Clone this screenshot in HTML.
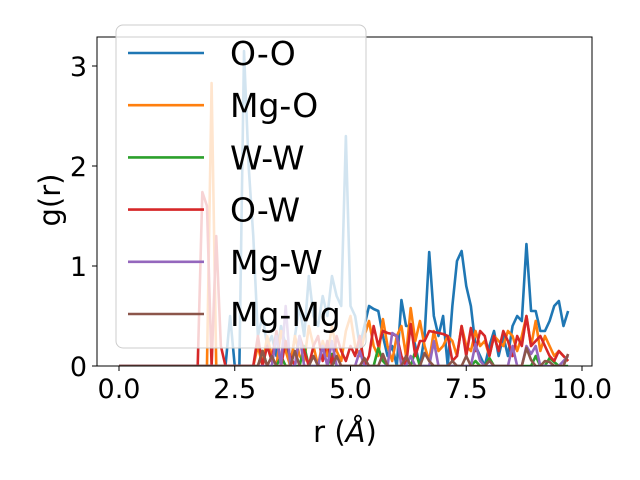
<!DOCTYPE html>
<html><head><meta charset="utf-8"><style>
html,body{margin:0;padding:0;background:#fff;}
svg{display:block;font-family:"DejaVu Sans","Liberation Sans",sans-serif;}
</style></head><body>
<svg id="chart" width="640" height="480" viewBox="0 0 640 480" xmlns="http://www.w3.org/2000/svg">
<defs><clipPath id="ax"><rect x="97" y="37" width="495" height="329"/></clipPath></defs>
<rect width="640" height="480" fill="#fff"/>
<g id="series" clip-path="url(#ax)"></g>
<rect x="97" y="37" width="495" height="329" fill="none" stroke="#000" stroke-width="1"/>
<g id="xticks"></g>
<g id="yticks"></g>
<text x="345" y="442" text-anchor="middle" font-size="29">r (<tspan font-style="italic">Å</tspan>)</text>
<text transform="translate(60,200) rotate(-90)" text-anchor="middle" font-size="29">g(r)</text>
<g id="legend"></g>
</svg>
<script>
const labels=["O-O","Mg-O","W-W","O-W","Mg-W","Mg-Mg"];
const colors=["#1f77b4","#ff7f0e","#2ca02c","#d62728","#9467bd","#8c564b"];
const xTicks=[0,2.5,5,7.5,10];
const xTickLabels=["0.0","2.5","5.0","7.5","10.0"];
const yTicks=[0,1,2,3];
const yTickLabels=["0","1","2","3"];
const Z30=[0,0,0,0,0,0,0,0,0,0,0,0,0,0,0,0,0,0,0,0,0,0,0,0,0,0,0,0,0,0];
const sOO=[0,0,0,0,0,0,0,0,0,0,0,0,0,0,0,0,0,0,0,0,0,0,0,0,
0.5,0,0,3.15,2.0,1.3,0.3,0.5,0.2,0.3,
0.1,0.4,0.2,0,0.3,0.6,0.3,0.9,0.5,0.4,
0.7,0.5,0.9,0.7,0.6,2.3,0.6,0.5,0.2,0.4,
0.6,0.57,0.55,0.3,0.1,0.2,0,0.66,0.4,0.4,
0.2,0,0.3,1.14,0.5,0.3,0.5,0,0.6,1.05,
1.15,0.8,0.6,0.2,0.1,0,0.2,0.35,0.1,0.3,
0.1,0.4,0.5,0.45,1.22,0.55,0.55,0.35,0.35,0.45,
0.6,0.65,0.4,0.55];
const sMgO=[0,0,0,0,0,0,0,0,0,0,0,0,0,0,0,0,0,0,0,0,2.83,0,0,0,0,0,0,0,0,0,
0.2,0,0.3,0.1,0,0.35,0.15,0,0.3,0.1,
0.05,0.4,0.2,0,0.25,0.1,0.4,0.15,0.05,0.35,
0.5,0.2,0.1,0.3,0.45,0.2,0.1,0.47,0.2,0.05,
0.3,0.4,0.1,0.58,0.25,0.45,0.2,0.05,0.35,0.15,
0.2,0.3,0.25,0.1,0.4,0.2,0.15,0.35,0.2,0.25,
0.1,0.3,0.25,0.2,0.35,0.3,0.15,0.3,0.5,0.2,
0.45,0.15,0.3,0.2,0.1,0.15,0.1,0.05];
const sWW=Z30.concat([
0,0.15,0,0,0,0.1,0,0,0,0,
0.2,0,0,0,0,0,0.12,0,0,0,
0,0,0,0,0,0,0.18,0.05,0,0,
0,0,0,0,0.15,0,0,0,0,0,
0,0,0,0,0,0,0,0.05,0,0,
0.08,0,0,0,0,0,0,0,0,0,
0.1,0,0,0.08,0.04,0,0,0]);
const sOW=[0,0,0,0,0,0,0,0,0,0,0,0,0,0,0,0,0,0,1.74,1.6,0,1.3,0.2,0,0,0,0,0,0,0,
0.3,0,0.2,0.05,0.35,0,0.25,0.1,0,0.3,
0.15,0,0.2,0.3,0.05,0.25,0,0.3,0.15,0.05,
0.2,0.1,0.3,0,0.1,0.4,0.2,0.35,0.33,0.32,
0.3,0.1,0,0.42,0.1,0.25,0.25,0.35,0.34,0.33,
0.32,0.3,0.05,0.1,0.4,0.1,0.38,0.15,0.35,0.3,
0.1,0.3,0.15,0.35,0.25,0.1,0.3,0.2,0.5,0.2,
0.25,0.3,0.2,0.1,0.05,0.15,0.1,0.05];
const sMgW=Z30.concat([
0,0,0,0,0.3,0,0.6,0,0,0.3,
0,0,0,0,0.2,0,0.25,0,0,0,
0,0,0.15,0,0,0,0,0,0,0.33,
0.3,0,0,0.1,0,0,0,0,0.25,0,
0,0,0,0,0,0,0,0.22,0.05,0,
0,0,0,0,0,0.2,0,0,0.2,0.12,
0.2,0,0,0,0,0,0.05,0.1]);
const sMgMg=Z30.concat([
0,0.15,0,0.1,0,0,0,0,0.15,0,
0,0,0.1,0,0,0,0,0.1,0,0,
0,0,0,0.08,0,0,0,0.12,0,0,
0,0,0.1,0,0,0,0.13,0.05,0,0,
0,0,0.05,0,0,0.1,0,0,0,0,
0.05,0,0,0,0,0,0,0,0.18,0.06,
0,0,0.05,0.04,0,0,0,0.12]);
const seriesList=[sOO,sMgO,sWW,sOW,sMgW,sMgMg];
const rStep=0.1;
const NS="http://www.w3.org/2000/svg";
function xs(r){return 119+r*46.3;}
function ys(v){return 366-v*100;}
const g=document.getElementById('series');
seriesList.forEach((s,k)=>{
  const p=document.createElementNS(NS,'polyline');
  p.setAttribute('points',s.map((v,i)=>xs(i*rStep).toFixed(2)+','+ys(v).toFixed(2)).join(' '));
  p.setAttribute('fill','none');p.setAttribute('stroke',colors[k]);p.setAttribute('stroke-width','2.6');
  p.setAttribute('stroke-linejoin','round');
  
  
  g.appendChild(p);
});
const xg=document.getElementById('xticks');
xTicks.forEach((t,i)=>{
  const l=document.createElementNS(NS,'line');
  l.setAttribute('x1',xs(t));l.setAttribute('x2',xs(t));l.setAttribute('y1',366);l.setAttribute('y2',371);l.setAttribute('stroke','#000');
  
  
  xg.appendChild(l);
  const tx=document.createElementNS(NS,'text');
  tx.setAttribute('x',xs(t));tx.setAttribute('y',398);tx.setAttribute('text-anchor','middle');tx.setAttribute('font-size','27');
  tx.textContent=xTickLabels[i];
  
  
  xg.appendChild(tx);
});
const yg=document.getElementById('yticks');
yTicks.forEach((t,i)=>{
  const l=document.createElementNS(NS,'line');
  l.setAttribute('x1',92);l.setAttribute('x2',97);l.setAttribute('y1',ys(t));l.setAttribute('y2',ys(t));l.setAttribute('stroke','#000');
  
  
  yg.appendChild(l);
  const tx=document.createElementNS(NS,'text');
  tx.setAttribute('x',87);tx.setAttribute('y',ys(t)+10);tx.setAttribute('text-anchor','end');tx.setAttribute('font-size','27');
  tx.textContent=yTickLabels[i];
  
  
  yg.appendChild(tx);
});
const lg=document.getElementById('legend');
const box=document.createElementNS(NS,'rect');
box.setAttribute('x',116);box.setAttribute('y',25);box.setAttribute('width',250);box.setAttribute('height',323);box.setAttribute('rx',7);
box.setAttribute('fill','#fff');box.setAttribute('fill-opacity','0.8');box.setAttribute('stroke','#cccccc');


lg.appendChild(box);
labels.forEach((lab,k)=>{
  const y=53+k*52.2;
  const l=document.createElementNS(NS,'line');
  l.setAttribute('x1',128);l.setAttribute('x2',204);l.setAttribute('y1',y);l.setAttribute('y2',y);l.setAttribute('stroke',colors[k]);l.setAttribute('stroke-width','2.6');
  
  
  lg.appendChild(l);
  const tx=document.createElementNS(NS,'text');
  tx.setAttribute('x',230);tx.setAttribute('y',y+12);tx.setAttribute('font-size','33');
  tx.textContent=lab;
  
  
  lg.appendChild(tx);
});
</script>
</body></html>
